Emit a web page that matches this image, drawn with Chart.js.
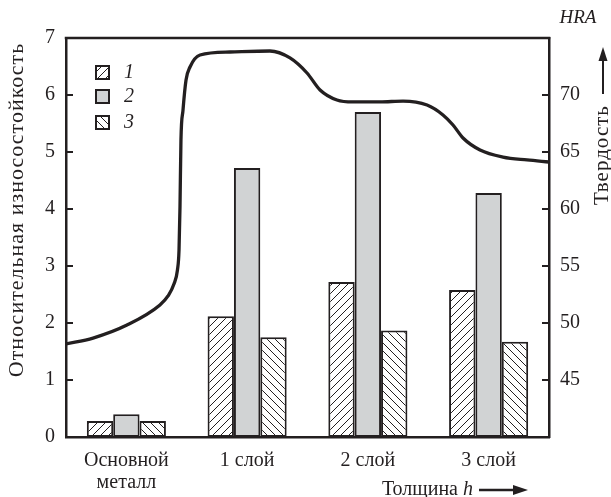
<!DOCTYPE html>
<html>
<head>
<meta charset="utf-8">
<script src="https://cdn.jsdelivr.net/npm/chart.js@4"></script>
<style>
  html, body { margin: 0; padding: 0; background: #fff; }
  #wrap { width: 611px; height: 497px; }
</style>
</head>
<body>
<div id="wrap"><canvas id="c" width="611" height="497"></canvas></div>
<script>
// Wear resistance of the base metal and of 1–3 deposited layers, plus hardness profile
const categories = [['Основной', 'металл'], '1 слой', '2 слой', '3 слой'];
const seriesNames = ['1', '2', '3'];
const wear1 = [0.28, 2.12, 2.72, 2.58];
const wear2 = [0.40, 4.72, 5.70, 4.28];
const wear3 = [0.28, 1.75, 1.87, 1.67];

// Hardness along the thickness (position measured in category widths, 0..4)
const thicknessPos = [0, 0.224, 0.505, 0.778, 0.845, 0.894, 0.923, 0.936, 0.944, 0.952, 0.969, 0.994, 1.027,
  1.110, 1.358, 1.689, 1.855, 1.996, 2.104, 2.244, 2.377, 2.600, 2.791, 2.990, 3.122, 3.205,
  3.288, 3.429, 3.619, 3.818, 4.0];
const hardness = [48.16, 48.68, 49.82, 51.58, 52.37, 53.42, 54.65, 56.40, 60.18, 66.05, 68.68, 71.32, 72.46,
  73.51, 73.77, 73.86, 73.25, 71.93, 70.44, 69.56, 69.39, 69.39, 69.47, 69.12, 68.25, 67.37,
  66.23, 65.18, 64.56, 64.30, 64.12];

const leftTicks = [0, 1, 2, 3, 4, 5, 6, 7];
const rightTicks = [45, 50, 55, 60, 65, 70];

const INK = '#231f20';
const GREY = '#d1d3d4';
const SERIF = '"Liberation Serif", "Times New Roman", serif';

const canvas = document.getElementById('c');
const ctx = canvas.getContext('2d');

function hatch(dir) {
  const s = 8;
  const c = document.createElement('canvas');
  c.width = s; c.height = s;
  const g = c.getContext('2d');
  g.fillStyle = '#fff';
  g.fillRect(0, 0, s, s);
  g.strokeStyle = INK;
  g.lineWidth = 1;
  g.beginPath();
  if (dir > 0) {
    g.moveTo(0, s); g.lineTo(s, 0);
    g.moveTo(-1, 1); g.lineTo(1, -1);
    g.moveTo(s - 1, s + 1); g.lineTo(s + 1, s - 1);
  } else {
    g.moveTo(0, 0); g.lineTo(s, s);
    g.moveTo(-1, s - 1); g.lineTo(1, s + 1);
    g.moveTo(s - 1, -1); g.lineTo(s + 1, 1);
  }
  g.stroke();
  return ctx.createPattern(c, 'repeat');
}

const fills = [hatch(1), GREY, hatch(-1)];

// bars sit at the middle of each category slot on the shared thickness axis
const toPoints = arr => arr.map((v, i) => ({ x: i + 0.5, y: v }));

const barCommon = {
  type: 'bar',
  borderColor: INK,
  borderWidth: 2,
  borderSkipped: false,
  categoryPercentage: 0.655,
  barPercentage: 1.0,
  xAxisID: 'x',
  yAxisID: 'y',
  order: 2
};

function drawRotated(g, text, x, y, size, spacing) {
  g.save();
  g.translate(x, y);
  g.rotate(-Math.PI / 2);
  g.font = size + 'px ' + SERIF;
  g.letterSpacing = spacing + 'px';
  g.textAlign = 'center';
  g.textBaseline = 'middle';
  g.fillText(text, 0, 0);
  g.restore();
}

// frame, inward ticks, legend and free-standing captions
const decor = {
  id: 'decor',
  afterDraw(chart) {
    const g = chart.ctx;
    const a = chart.chartArea;
    const y = chart.scales.y, yh = chart.scales.yh;
    g.save();
    g.strokeStyle = INK;
    g.fillStyle = INK;
    g.lineWidth = 2.5;
    g.beginPath();
    g.moveTo(a.left - 1.25, a.top);
    g.lineTo(a.right + 1.25, a.top);
    g.stroke();

    g.lineWidth = 2;
    g.beginPath();
    leftTicks.forEach(v => {
      if (v <= 0 || v >= 7) return;
      const py = Math.round(y.getPixelForValue(v));
      g.moveTo(a.left, py); g.lineTo(a.left + 7, py);
    });
    rightTicks.forEach(v => {
      const py = Math.round(yh.getPixelForValue(v));
      g.moveTo(a.right, py); g.lineTo(a.right - 7, py);
    });
    g.stroke();

    // legend
    const ly = [72, 96, 122];
    seriesNames.forEach((name, i) => {
      g.fillStyle = fills[i];
      g.fillRect(96, ly[i] - 6, 13, 13);
      g.lineWidth = 2;
      g.strokeStyle = INK;
      g.strokeRect(96, ly[i] - 6, 13, 13);
      g.fillStyle = INK;
      g.font = 'italic 20px ' + SERIF;
      g.textAlign = 'left';
      g.textBaseline = 'middle';
      g.fillText(name, 124, ly[i] + 1);
    });

    // axis titles
    g.fillStyle = INK;
    drawRotated(g, 'Относительная износостойкость', 17, 210, 22, 1);
    drawRotated(g, 'Твердость', 602, 155, 21, 1);

    g.font = 'italic 19px ' + SERIF;
    g.textAlign = 'center';
    g.textBaseline = 'middle';
    g.fillText('HRA', 578, 18);

    // upward arrow above the hardness title
    g.lineWidth = 2;
    g.beginPath();
    g.moveTo(603, 94); g.lineTo(603, 58);
    g.stroke();
    g.beginPath();
    g.moveTo(603, 47); g.lineTo(598.5, 61); g.lineTo(607.5, 61); g.closePath();
    g.fill();

    // thickness caption with arrow
    g.textAlign = 'right';
    g.font = 'italic 20px ' + SERIF;
    const wh = g.measureText('h').width;
    g.fillText('h', 473, 490);
    g.font = '20px ' + SERIF;
    g.fillText('Толщина ', 473 - wh, 490);
    g.beginPath();
    g.lineWidth = 2.5;
    g.moveTo(479, 490); g.lineTo(515, 490);
    g.stroke();
    g.beginPath();
    g.moveTo(528, 490); g.lineTo(513, 485); g.lineTo(513, 495); g.closePath();
    g.fill();
    g.restore();
  }
};

new Chart(ctx, {
  data: {
    datasets: [
      Object.assign({ label: seriesNames[0], data: toPoints(wear1), backgroundColor: fills[0] }, barCommon),
      Object.assign({ label: seriesNames[1], data: toPoints(wear2), backgroundColor: fills[1] }, barCommon),
      Object.assign({ label: seriesNames[2], data: toPoints(wear3), backgroundColor: fills[2] }, barCommon),
      {
        type: 'line',
        label: 'HRA',
        data: thicknessPos.map((p, i) => ({ x: p, y: hardness[i] })),
        xAxisID: 'x',
        yAxisID: 'yh',
        borderColor: INK,
        borderWidth: 3.3,
        pointRadius: 0,
        fill: false,
        cubicInterpolationMode: 'monotone',
        order: 1
      }
    ]
  },
  options: {
    responsive: false,
    animation: false,
    events: [],
    indexAxis: 'x',
    layout: { padding: { top: 38, left: 0, right: 0, bottom: 0 } },
    plugins: { legend: { display: false }, tooltip: { enabled: false } },
    scales: {
      x: {
        type: 'linear',
        position: 'bottom',
        min: 0,
        max: 4,
        offset: false,
        afterBuildTicks(s) { s.ticks = categories.map((c, i) => ({ value: i + 0.5 })); },
        grid: { display: false, drawTicks: false },
        border: { display: true, color: INK, width: 2.5 },
        ticks: {
          color: INK,
          font: { family: SERIF, size: 20, lineHeight: 1.1 },
          padding: 13,
          maxRotation: 0,
          autoSkip: false,
          callback: (v, i) => categories[i]
        },
        afterFit(s) { s.height = 60; }
      },
      y: {
        position: 'left',
        min: 0,
        max: 7,
        afterBuildTicks(s) { s.ticks = leftTicks.map(v => ({ value: v })); },
        grid: { display: false, drawTicks: false },
        border: { display: true, color: INK, width: 2.5 },
        ticks: { color: INK, font: { family: SERIF, size: 20 }, padding: 11 },
        afterFit(s) { s.width = 66; }
      },
      yh: {
        position: 'right',
        min: 40,
        max: 75,
        afterBuildTicks(s) { s.ticks = rightTicks.map(v => ({ value: v })); },
        grid: { display: false, drawTicks: false },
        border: { display: true, color: INK, width: 2.5 },
        ticks: { color: INK, font: { family: SERIF, size: 20 }, padding: 11 },
        afterFit(s) { s.width = 62; }
      }
    }
  },
  plugins: [decor]
});
</script>
</body>
</html>
